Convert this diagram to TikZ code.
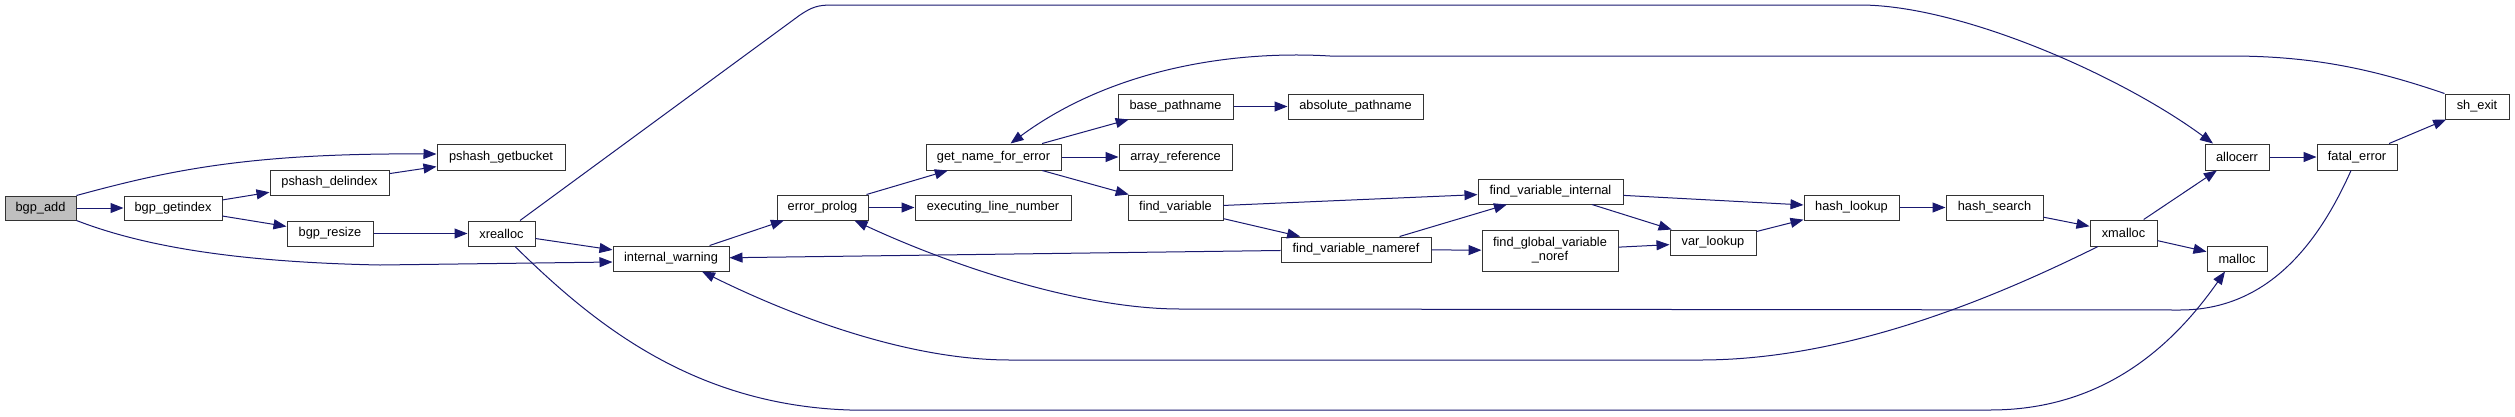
\documentclass[tikz,border=0pt]{standalone}
\usepackage{fontspec}
\setmainfont{Liberation Sans}
\usetikzlibrary{arrows.meta}
\definecolor{edgeblue}{RGB}{25,25,112}
\definecolor{boxgray}{RGB}{191,191,191}
\begin{document}
\begin{tikzpicture}[x=1pt,y=-1pt,
  fn/.style={draw=black!80, line width=1pt, fill=white, minimum height=25pt, inner sep=0pt,
    font=\fontsize{12.8pt}{14pt}\selectfont, align=center},
  call/.style={draw=edgeblue, line width=1pt, -{Triangle[length=13pt,width=10pt]}}]
\fill[white] (0,0) rectangle (2515,416);
\useasboundingbox (0,0) rectangle (2515,416);
% nodes
\node[fn, fill=boxgray, minimum width=71pt, minimum height=24pt] (bgpadd) at (40.5,208) {bgp\_add};
\node[fn, minimum width=98pt, minimum height=24pt] (bgpget) at (173,208) {bgp\_getindex};
\node[fn, minimum width=119pt] (psdel) at (329.5,182.5) {pshash\_delindex};
\node[fn, minimum width=86pt] (bgpres) at (330,233.5) {bgp\_resize};
\node[fn, minimum width=128pt, minimum height=26pt] (psgb) at (501,157) {pshash\_getbucket};
\node[fn, minimum width=67pt] (xrealloc) at (501.5,233.5) {xrealloc};
\node[fn, minimum width=116pt] (iw) at (671,258.5) {internal\_warning};
\node[fn, minimum width=91pt] (eprolog) at (822.5,207.5) {error\_prolog};
\node[fn, minimum width=135pt, minimum height=26pt] (gnfe) at (993.5,157) {get\_name\_for\_error};
\node[fn, minimum width=156pt] (exec) at (993,207.5) {executing\_line\_number};
\node[fn, minimum width=115pt] (basep) at (1175.5,106.5) {base\_pathname};
\node[fn, minimum width=135pt] (absp) at (1355.5,106.5) {absolute\_pathname};
\node[fn, minimum width=113pt, minimum height=26pt] (arref) at (1175.5,157) {array\_reference};
\node[fn, minimum width=95pt] (findvar) at (1175.5,207.5) {find\_variable};
\node[fn, minimum width=150pt] (fvn) at (1356,249.5) {find\_variable\_nameref};
\node[fn, minimum width=145pt] (fvi) at (1550.5,191.5) {find\_variable\_internal};
\node[fn, minimum width=136pt, minimum height=41pt] (fgvn) at (1550,250.5) {find\_global\_variable\\\_noref};
\node[fn, minimum width=86pt] (varl) at (1713,242.5) {var\_lookup};
\node[fn, minimum width=95pt] (hashl) at (1851.5,207.5) {hash\_lookup};
\node[fn, minimum width=97pt] (hashs) at (1994.5,207.5) {hash\_search};
\node[fn, minimum width=67pt, minimum height=26pt] (xmalloc) at (2123.5,233) {xmalloc};
\node[fn, minimum width=60pt] (malloc) at (2237,258.5) {malloc};
\node[fn, minimum width=64pt, minimum height=26pt] (allocerr) at (2237,157) {allocerr};
\node[fn, minimum width=80pt, minimum height=26pt] (fatal) at (2357,157) {fatal\_error};
\node[fn, minimum width=64pt] (shexit) at (2477,106.5) {sh\_exit};
% edges
\draw[call] (bgpadd) -- (bgpget);
\draw[call] (bgpadd.north east) .. controls (170,170) and (250,153) .. ([yshift=3pt]psgb.west);
\draw[call] (bgpadd.south east) .. controls (140,245) and (230,262) .. (380,265) -- ([yshift=-3.5pt]iw.west);
\draw[call] (bgpget) -- (psdel);
\draw[call] (bgpget) -- (bgpres);
\draw[call] (psdel) -- (psgb);
\draw[call] (bgpres) -- (xrealloc);
\draw[call] (xrealloc) -- (iw);
\draw[call] ([xshift=18.5pt]xrealloc.north) -- (800,15) .. controls (812,7) and (818,5) .. (832,5) -- (1860,5) .. controls (1960,5) and (2120,75) .. ([xshift=-24pt]allocerr.north);
\draw[call] ([xshift=13.5pt]xrealloc.south) .. controls (590,320) and (690,405) .. (850,410) -- (1990,410) .. controls (2100,410) and (2170,350) .. ([xshift=-12pt]malloc.south);
\draw[call] (iw) -- (eprolog);
\draw[call] (eprolog) -- (gnfe);
\draw[call] (eprolog) -- (exec);
\draw[call] (gnfe) -- (basep);
\draw[call] (gnfe) -- (arref);
\draw[call] (gnfe) -- (findvar);
\draw[call] (basep) -- (absp);
\draw[call] (findvar) -- (fvi);
\draw[call] (findvar) -- (fvn);
\draw[call] (fvn) -- (fvi);
\draw[call] (fvn) -- (fgvn);
\draw[call] (fvn) -- (iw);
\draw[call] (fvi) -- (hashl);
\draw[call] (fvi) -- (varl);
\draw[call] (fgvn) -- (varl);
\draw[call] (varl) -- (hashl);
\draw[call] (hashl) -- (hashs);
\draw[call] (hashs) -- (xmalloc);
\draw[call] (xmalloc) -- (allocerr);
\draw[call] (xmalloc) -- (malloc);
\draw[call] ([xshift=-25.5pt]xmalloc.south) .. controls (2000,295) and (1850,360) .. (1700,360) -- (1010,360) .. controls (900,360) and (780,310) .. ([xshift=31pt]iw.south);
\draw[call] (allocerr) -- (fatal);
\draw[call] (fatal) -- (shexit);
\draw[call] ([xshift=-6pt]fatal.south) .. controls (2320,240) and (2270,310) .. (2180,310) -- (1180,309) .. controls (1080,309) and (950,265) .. ([xshift=32pt]eprolog.south);
\draw[call] (shexit.north west) .. controls (2370,68) and (2310,56) .. (2230,56) -- (1330,56) .. controls (1230,50) and (1110,70) .. ([xshift=17pt]gnfe.north);
\end{tikzpicture}
\end{document}
